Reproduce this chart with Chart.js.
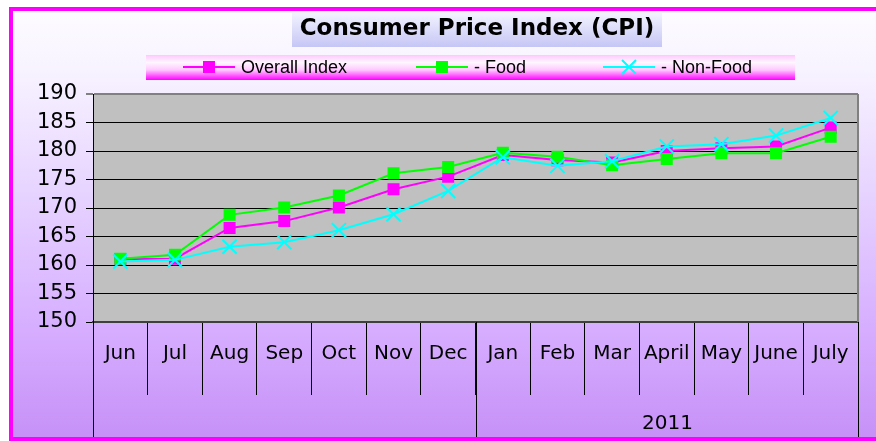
<!DOCTYPE html>
<html>
<head>
<meta charset="utf-8">
<script src="https://cdn.jsdelivr.net/npm/chart.js@4/dist/chart.umd.min.js"></script>
<style>
    html, body {margin: 0; padding: 0; background: #ffffff;}
    #wrap {width: 876px; height: 441px;}
</style>
</head>
<body>
<div id="wrap"><canvas id="cpi-chart" width="876" height="441"></canvas></div>
<script>
// chart data
let months = ['Jun', 'Jul', 'Aug', 'Sep', 'Oct', 'Nov', 'Dec', 'Jan', 'Feb', 'Mar', 'April', 'May', 'June', 'July'];
let yearLabels = ['', '2011'];
let yearStarts = [0, 7];
let overallIndex = [161.0, 161.1, 166.5, 167.7, 170.1, 173.3, 175.5, 179.3, 178.4, 178.0, 180.0, 180.5, 180.8, 184.1];
let foodIndex = [161.1, 161.8, 168.8, 170.1, 172.2, 176.1, 177.2, 179.7, 179.0, 177.5, 178.6, 179.6, 179.6, 182.5];
let nonFoodIndex = [160.6, 160.9, 163.2, 164.0, 166.1, 168.9, 173.0, 178.9, 177.4, 178.2, 180.8, 181.2, 182.7, 185.8];
let yTicks = [150, 155, 160, 165, 170, 175, 180, 185, 190];

let chartTitle = 'Consumer Price Index (CPI)';
let axisFont = 'DejaVu Sans';

function drawMarker(ctx, style, color, x, y) {
    ctx.save();
    ctx.fillStyle = color;
    ctx.strokeStyle = color;
    ctx.lineWidth = 2;
    if ('rect' === style) {
        ctx.fillRect(x - 6, y - 6, 12, 12);
    }
    if ('crossRot' === style) {
        ctx.beginPath();
        ctx.moveTo(x - 7, y - 7);
        ctx.lineTo(x + 7, y + 7);
        ctx.moveTo(x + 7, y - 7);
        ctx.lineTo(x - 7, y + 7);
        ctx.stroke();
    }
    ctx.restore();
}

const decorations = {
    id: 'decorations',
    beforeDraw(chart) {
        const ctx = chart.ctx;
        const area = chart.chartArea;
        const w = chart.width;
        const h = chart.height;
        ctx.save();
        ctx.fillStyle = '#ffffff';
        ctx.fillRect(0, 0, w, h);

        // lavender page background
        let bg = ctx.createLinearGradient(0, 0, 0, h);
        bg.addColorStop(0, '#fefdff');
        bg.addColorStop(0.15, '#f8f4ff');
        bg.addColorStop(0.45, '#e6d2ff');
        bg.addColorStop(0.75, '#d6adff');
        bg.addColorStop(1, '#c690f7');
        ctx.fillStyle = bg;
        ctx.fillRect(11, 9, w, h - 11);

        // magenta frame (right side runs off the picture)
        ctx.strokeStyle = '#ff00ff';
        ctx.lineWidth = 4;
        ctx.strokeRect(11, 9, w + 10, h - 11);

        // title box
        let tg = ctx.createLinearGradient(0, 13, 0, 47);
        tg.addColorStop(0, '#f2f2ff');
        tg.addColorStop(1, '#c6c6f6');
        ctx.fillStyle = tg;
        ctx.fillRect(292, 13, 370, 34);
        ctx.fillStyle = '#000000';
        ctx.font = 'bold 23px "DejaVu Sans"';
        ctx.textAlign = 'center';
        ctx.textBaseline = 'middle';
        ctx.fillText(chartTitle, 477, 29);

        // legend box
        let lg = ctx.createLinearGradient(0, 55, 0, 80);
        lg.addColorStop(0, '#ffc8ff');
        lg.addColorStop(0.3, '#fff6ff');
        lg.addColorStop(0.6, '#ffc8ff');
        lg.addColorStop(1, '#ff00ff');
        ctx.fillStyle = lg;
        ctx.fillRect(146, 55, 649, 25);

        let legendX = [183, 416, 603];
        ctx.font = '18px "Liberation Sans"';
        ctx.textAlign = 'left';
        chart.data.datasets.forEach((ds, i) => {
            let x = legendX[i];
            ctx.strokeStyle = ds.borderColor;
            ctx.lineWidth = 2;
            ctx.beginPath();
            ctx.moveTo(x, 67);
            ctx.lineTo(x + 52, 67);
            ctx.stroke();
            drawMarker(ctx, ds.pointStyle, ds.borderColor, x + 26, 67);
            ctx.fillStyle = '#000000';
            ctx.fillText(ds.label, x + 58, 68);
        });

        // plot area fill
        ctx.fillStyle = '#c0c0c0';
        ctx.fillRect(area.left, area.top, area.right - area.left, area.bottom - area.top);
        ctx.restore();
    },
    afterDraw(chart) {
        const ctx = chart.ctx;
        const area = chart.chartArea;
        const xs = chart.scales.x;
        const half = (xs.getPixelForValue(1) - xs.getPixelForValue(0)) / 2;
        ctx.save();
        // right edge of plot
        ctx.strokeStyle = '#808080';
        ctx.lineWidth = 2;
        ctx.beginPath();
        ctx.moveTo(area.right, area.top);
        ctx.lineTo(area.right, area.bottom);
        ctx.stroke();

        // year group separators and labels
        ctx.strokeStyle = '#000000';
        ctx.lineWidth = 1;
        ctx.fillStyle = '#000000';
        ctx.font = '20px ' + axisFont;
        ctx.textAlign = 'center';
        ctx.textBaseline = 'middle';
        for (let i = 0; i < yearStarts.length; i++) {
            let start = yearStarts[i];
            let end = i + 1 < yearStarts.length ? yearStarts[i + 1] - 1 : months.length - 1;
            let left = Math.round(xs.getPixelForValue(start) - half) + 0.5;
            let right = Math.round(xs.getPixelForValue(end) + half) + 0.5;
            ctx.beginPath();
            ctx.moveTo(left, area.bottom);
            ctx.lineTo(left, 437);
            ctx.moveTo(right, area.bottom);
            ctx.lineTo(right, 437);
            ctx.stroke();
            ctx.fillText(yearLabels[i], (left + right) / 2, 424);
        }
        ctx.restore();
    }
};

let datasets = [
    {
        label: 'Overall Index',
        data: overallIndex,
        borderColor: '#ff00ff',
        backgroundColor: '#ff00ff',
        pointStyle: 'rect',
        order: 3,
    },
    {
        label: '- Food',
        data: foodIndex,
        borderColor: '#00ff00',
        backgroundColor: '#00ff00',
        pointStyle: 'rect',
        order: 2,
    },
    {
        label: '- Non-Food',
        data: nonFoodIndex,
        borderColor: '#00ffff',
        backgroundColor: '#00ffff',
        pointStyle: 'crossRot',
        order: 1,
    }
];
datasets.forEach((ds) => {
    ds.borderWidth = 2;
    ds.pointRadius = 'rect' === ds.pointStyle ? 8.5 : 10;
    ds.pointBorderWidth = 'rect' === ds.pointStyle ? 0 : 2;
    ds.pointBorderColor = ds.borderColor;
    ds.pointBackgroundColor = ds.borderColor;
    ds.tension = 0;
});

new Chart(document.querySelector('#cpi-chart'), {
    type: 'line',
    data: {labels: months, datasets: datasets},
    options: {
        responsive: false,
        animation: false,
        layout: {padding: {top: 94, right: 18, bottom: 0, left: 0}},
        plugins: {
            legend: {display: false},
            title: {display: false},
            tooltip: {enabled: false},
        },
        scales: {
            x: {
                type: 'category',
                offset: true,
                border: {display: true, color: '#404040', width: 2},
                grid: {
                    offset: true,
                    drawOnChartArea: false,
                    drawTicks: true,
                    tickLength: 73,
                    color: '#000000',
                    lineWidth: 1,
                },
                ticks: {
                    color: '#000000',
                    font: {family: axisFont, size: 20},
                    padding: -53,
                    maxRotation: 0,
                    autoSkip: false,
                },
                afterFit(scale) {
                    scale.height = 119;
                },
            },
            y: {
                min: 150,
                max: 190,
                border: {display: true, color: '#000000', width: 1},
                grid: {
                    color: (ctx) => (ctx.tick && 190 === ctx.tick.value ? '#808080' : '#000000'),
                    lineWidth: (ctx) => (ctx.tick && 190 === ctx.tick.value ? 2 : 1),
                    drawTicks: true,
                    tickLength: 7,
                },
                afterBuildTicks(scale) {
                    scale.ticks = yTicks.map((v) => ({value: v}));
                },
                ticks: {
                    color: '#000000',
                    font: {family: axisFont, size: 21},
                    padding: 9,
                },
                afterFit(scale) {
                    scale.width = 93;
                },
            },
        },
    },
    plugins: [decorations],
});
</script>
</body>
</html>
